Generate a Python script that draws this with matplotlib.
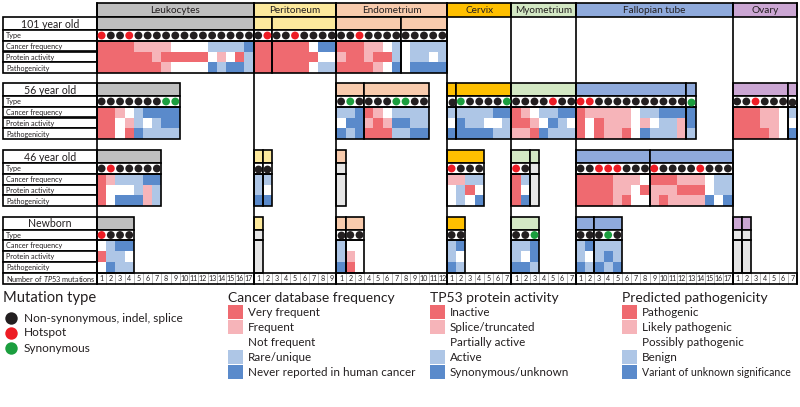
import matplotlib
matplotlib.use("Agg")
import matplotlib.pyplot as plt
from matplotlib.patches import Rectangle
from matplotlib.colors import ListedColormap
import numpy as np

plt.rcParams['font.family'] = ['Lato', 'DejaVu Sans']
plt.rcParams['mathtext.fontset'] = 'custom'
plt.rcParams['mathtext.it'] = 'Lato:italic'
plt.rcParams['mathtext.rm'] = 'Lato'

# ---------------- data ----------------
tissues = ["Leukocytes", "Peritoneum", "Endometrium", "Cervix",
           "Myometrium", "Fallopian tube", "Ovary"]
tissue_ncols = [17, 9, 12, 7, 7, 17, 7]
tissue_colors = ["#BFBFBF", "#FDE99C", "#F8CBAD", "#FFC000",
                 "#D3E8C4", "#8FAADC", "#CBA6D3"]
ages = ["101 year old", "56 year old", "46 year old", "Newborn"]
row_labels = ["Type", "Cancer frequency", "Protein activity", "Pathogenicity"]

# type codes: k = non-synonymous/indel/splice, r = hotspot, g = synonymous, - = no data
# heat codes: R, P, W, L, B (5 levels of each scale), G = no data
boxes_101 = {"Leukocytes": [17], "Peritoneum": [2, 7], "Endometrium": [7, 5]}
type_101 = {"Leukocytes": "rkkrkkkkkkkkkkkkk", "Peritoneum": "krkkrkkkk",
            "Endometrium": "kkrkkkkkkkkk"}
freq_101 = {"Leukocytes": "RRRRPPPPWWWWLLLLB", "Peritoneum": "RRRRRRWBB",
            "Endometrium": "RRRPPWLWLLLL"}
act_101 = {"Leukocytes": "RRRRRRPRRRRRWPWRL", "Peritoneum": "RRRRRRRWW",
           "Endometrium": "PRRPRRLWLLWL"}
path_101 = {"Leukocytes": "RRRRRRRPWWWWBLBBL", "Peritoneum": "RRRRRRWLL",
            "Endometrium": "RRRRPWBWBBBB"}

boxes_56 = {"Leukocytes": [9], "Endometrium": [3, 7], "Cervix": [1, 6],
            "Myometrium": [7], "Fallopian tube": [12, 1], "Ovary": [6, 1]}
type_56 = {"Leukocytes": "kkkkkkkgg", "Endometrium": "kgkkkkggkk", "Cervix": "kgkkkkg",
           "Myometrium": "kkkkrkk", "Fallopian tube": "rrkkkkkkkkkkg", "Ovary": "kkrkkkk"}
freq_56 = {"Leukocytes": "RRPWLBBBB", "Endometrium": "LLBRPWLLLL", "Cervix": "LLLLLBB",
           "Myometrium": "RPWLLBB", "Fallopian tube": "RPPPPPWLLBBBB", "Ovary": "RRRPPWL"}
act_56 = {"Leukocytes": "RRWPLWLBB", "Endometrium": "WBBPRPBBLL", "Cervix": "WBLLWWL",
          "Myometrium": "RRPWBLW", "Fallopian tube": "RWRPPPWPWLLPB", "Ovary": "RRRPPWW"}
path_56 = {"Leukocytes": "RRWRBLLLL", "Endometrium": "BLBRRRLLBB", "Cervix": "BBBBBLL",
           "Myometrium": "PPRBLLL", "Fallopian tube": "RWRPPRWBLLLPL", "Ovary": "RRRRPWB"}

boxes_46 = {"Leukocytes": [7], "Peritoneum": [1, 1], "Endometrium": [1], "Cervix": [4],
            "Myometrium": [2, 1], "Fallopian tube": [8, 9]}
type_46 = {"Leukocytes": "krkkkkk", "Peritoneum": "kk", "Endometrium": "-", "Cervix": "rkkk",
           "Myometrium": "rk-", "Fallopian tube": "kkrrrkkkrkkkkrkkk"}
freq_46 = {"Leukocytes": "RPLLLBB", "Peritoneum": "LL", "Endometrium": "G", "Cervix": "PPLL",
           "Myometrium": "RLG", "Fallopian tube": "RRRRPPPWRRRPPPWLL"}
act_46 = {"Leukocytes": "RWWWLPL", "Peritoneum": "LW", "Endometrium": "G", "Cervix": "WLRW",
          "Myometrium": "RWG", "Fallopian tube": "RRRRPPWRPPPRRRWLL"}
path_46 = {"Leukocytes": "RWBBBPL", "Peritoneum": "BB", "Endometrium": "G", "Cervix": "WLWB",
           "Myometrium": "RBG", "Fallopian tube": "RRRRPRWWPRPPPPBWB"}

boxes_nb = {"Leukocytes": [4], "Peritoneum": [1], "Endometrium": [1, 2], "Cervix": [2],
            "Myometrium": [3], "Fallopian tube": [2, 3], "Ovary": [1, 1]}
type_nb = {"Leukocytes": "rkkk", "Peritoneum": "-", "Endometrium": "kkk", "Cervix": "kk",
           "Myometrium": "kkg", "Fallopian tube": "kkkgk", "Ovary": "--"}
freq_nb = {"Leukocytes": "WLBB", "Peritoneum": "G", "Endometrium": "LWW", "Cervix": "LB",
           "Myometrium": "LLB", "Fallopian tube": "LBLLL", "Ovary": "GG"}
act_nb = {"Leukocytes": "RLLW", "Peritoneum": "G", "Endometrium": "LPW", "Cervix": "LW",
          "Myometrium": "LWB", "Fallopian tube": "LWLBL", "Ovary": "GG"}
path_nb = {"Leukocytes": "WBLL", "Peritoneum": "G", "Endometrium": "BRW", "Cervix": "BL",
           "Myometrium": "BBL", "Fallopian tube": "BLBLB", "Ovary": "GG"}

legend_titles = ["Mutation type", "Cancer database frequency",
                 "TP53 protein activity", "Predicted pathogenicity"]
mutation_labels = ["Non-synonymous, indel, splice", "Hotspot", "Synonymous"]
freq_labels = ["Very frequent", "Frequent", "Not frequent", "Rare/unique",
               "Never reported in human cancer"]
act_labels = ["Inactive", "Splice/truncated", "Partially active", "Active",
              "Synonymous/unknown"]
path_labels = ["Pathogenic", "Likely pathogenic", "Possibly pathogenic", "Benign",
               "Variant of unknown significance"]

# ---------------- styles ----------------
heat_codes = "RPWLBG"
heat_colors = ["#EF6A70", "#F6B4B9", "#FFFFFF", "#AEC6E6", "#5A8ACB", "#E6E6E6"]
heat_cmap = ListedColormap(heat_colors)
dot_colors = {"k": "#231F20", "r": "#ED1C24", "g": "#1B9E3E"}

all_boxes = [boxes_101, boxes_56, boxes_46, boxes_nb]
all_type = [type_101, type_56, type_46, type_nb]
all_heat = [[freq_101, act_101, path_101], [freq_56, act_56, path_56],
            [freq_46, act_46, path_46], [freq_nb, act_nb, path_nb]]

X0, X1 = 97.0, 797.0
NCOL = sum(tissue_ncols)
CW = (X1 - X0) / NCOL
LX0 = 3.0
TOP_Y0, TOP_Y1 = 3.0, 17.0
block_tops = [17.0, 83.0, 150.0, 216.5]
HDR_H, TYPE_H, ROW_H = 13.3, 10.4, 10.8
NUM_Y0, NUM_Y1 = 272.8, 284.3
LW = 1.2
TXT = "#231F20"

tissue_start = np.concatenate([[0], np.cumsum(tissue_ncols)])

fig = plt.figure(figsize=(8.0, 4.07), dpi=100)
ax = fig.add_axes([0, 0, 1, 1])
ax.set_xlim(0, 800)
ax.set_ylim(407, 0)
ax.axis("off")


def cx(c):
    return X0 + c * CW


def box(x0, y0, x1, y1, fc="none", lw=LW, ec="black", z=3):
    ax.add_patch(Rectangle((x0, y0), x1 - x0, y1 - y0, facecolor=fc,
                           edgecolor=ec, linewidth=lw, zorder=z))


# top tissue header
for t, name in enumerate(tissues):
    xa, xb = cx(tissue_start[t]), cx(tissue_start[t + 1])
    box(xa, TOP_Y0, xb, TOP_Y1, fc=tissue_colors[t])
    ax.text((xa + xb) / 2, (TOP_Y0 + TOP_Y1) / 2 + 0.5, name, ha="center", va="center",
            fontsize=7.2, color=TXT, zorder=5)

# vertical tissue separators
for t in range(len(tissues) + 1):
    ax.plot([cx(tissue_start[t])] * 2, [TOP_Y0, NUM_Y1], color="black", lw=LW, zorder=4)

# age blocks
for a, age in enumerate(ages):
    y0 = block_tops[a]
    yh = y0 + HDR_H
    yt = yh + TYPE_H
    yb = yt + 3 * ROW_H
    box(LX0, y0, X0, yh, fc="white")
    ax.text((LX0 + X0) / 2, (y0 + yh) / 2 + 0.5, age, ha="center", va="center",
            fontsize=7.6, color=TXT, zorder=5)
    row_edges = [yh, yt, yt + ROW_H, yt + 2 * ROW_H, yb]
    for r, lab in enumerate(row_labels):
        box(LX0, row_edges[r], X0, row_edges[r + 1], fc="white")
        ax.text(LX0 + 3, (row_edges[r] + row_edges[r + 1]) / 2 + 0.3, lab, ha="left",
                va="center", fontsize=5.2, color=TXT, zorder=5)
    for t, name in enumerate(tissues):
        if name not in all_boxes[a]:
            continue
        sizes = all_boxes[a][name]
        types = all_type[a][name]
        heat = [h[name] for h in all_heat[a]]
        c = tissue_start[t]
        i = 0
        for n in sizes:
            xa, xb = cx(c), cx(c + n)
            box(xa, y0, xb, yh, fc=tissue_colors[t])
            tcode = types[i:i + n]
            if "-" in tcode:
                box(xa, yh, xb, yt, fc=heat_colors[5])
            else:
                box(xa, yh, xb, yt, fc="white")
                xs = [cx(c + j + 0.5) for j in range(n)]
                ax.scatter(xs, [(yh + yt) / 2] * n, s=32,
                           c=[dot_colors[ch] for ch in tcode], linewidths=0, zorder=6)
            vals = np.array([[heat_codes.index(ch) for ch in h[i:i + n]] for h in heat])
            xe = [cx(c + j) for j in range(n + 1)]
            ye = [yt + k * ROW_H for k in range(4)]
            ax.pcolormesh(xe, ye, vals, cmap=heat_cmap, vmin=-0.5, vmax=5.5, zorder=2)
            box(xa, yt, xb, yb)
            c += n
            i += n

# number row
box(LX0, NUM_Y0, X0, NUM_Y1, fc="white")
ax.text(LX0 + 3, (NUM_Y0 + NUM_Y1) / 2 + 0.3, r"Number of $\mathit{TP53}$ mutations",
        ha="left", va="center", fontsize=5.35, color=TXT, zorder=5)
for t, name in enumerate(tissues):
    for j in range(tissue_ncols[t]):
        c = tissue_start[t] + j
        if j > 0:
            ax.plot([cx(c)] * 2, [NUM_Y0, NUM_Y1], color="#9A9A9A", lw=0.5, zorder=3)
        ax.text(cx(c + 0.5), (NUM_Y0 + NUM_Y1) / 2 + 0.4, str(j + 1), ha="center",
                va="center", fontsize=5.1, color=TXT, zorder=5)
    box(cx(tissue_start[t]), NUM_Y0, cx(tissue_start[t + 1]), NUM_Y1)

# legend
leg_x = [3, 228, 430, 622]
TITLE_Y = 298
legend_texts = []
ax.text(leg_x[0], TITLE_Y, legend_titles[0], ha="left", va="center", fontsize=10.6,
        color=TXT)
for k, lab in enumerate(mutation_labels):
    yy = 318 + 15 * k
    ax.scatter([leg_x[0] + 8], [yy], s=80, c=[dot_colors["krg"[k]]], linewidths=0)
    ax.text(leg_x[0] + 21, yy, lab, ha="left", va="center", fontsize=8.6, color=TXT)

for g, labs in enumerate([freq_labels, act_labels, path_labels]):
    xl = leg_x[g + 1]
    ax.text(xl, TITLE_Y, legend_titles[g + 1], ha="left", va="center", fontsize=10.0,
            color=TXT)
    for k, lab in enumerate(labs):
        ya = 305 + 15 * k
        ax.add_patch(Rectangle((xl, ya), 15, 14, facecolor=heat_colors[k],
                               edgecolor="none"))
        legend_texts.append(ax.text(xl + 20, ya + 7.5, lab, ha="left", va="center",
                                    fontsize=8.4, color=TXT))

# shrink any legend text that would run past the right edge
fig.canvas.draw()
renderer = fig.canvas.get_renderer()
for txt in legend_texts:
    bb = txt.get_window_extent(renderer)
    if bb.x1 > 792:
        txt.set_fontsize(txt.get_fontsize() * (792 - bb.x0) / (bb.x1 - bb.x0))

fig.savefig("out.png", dpi=100)
